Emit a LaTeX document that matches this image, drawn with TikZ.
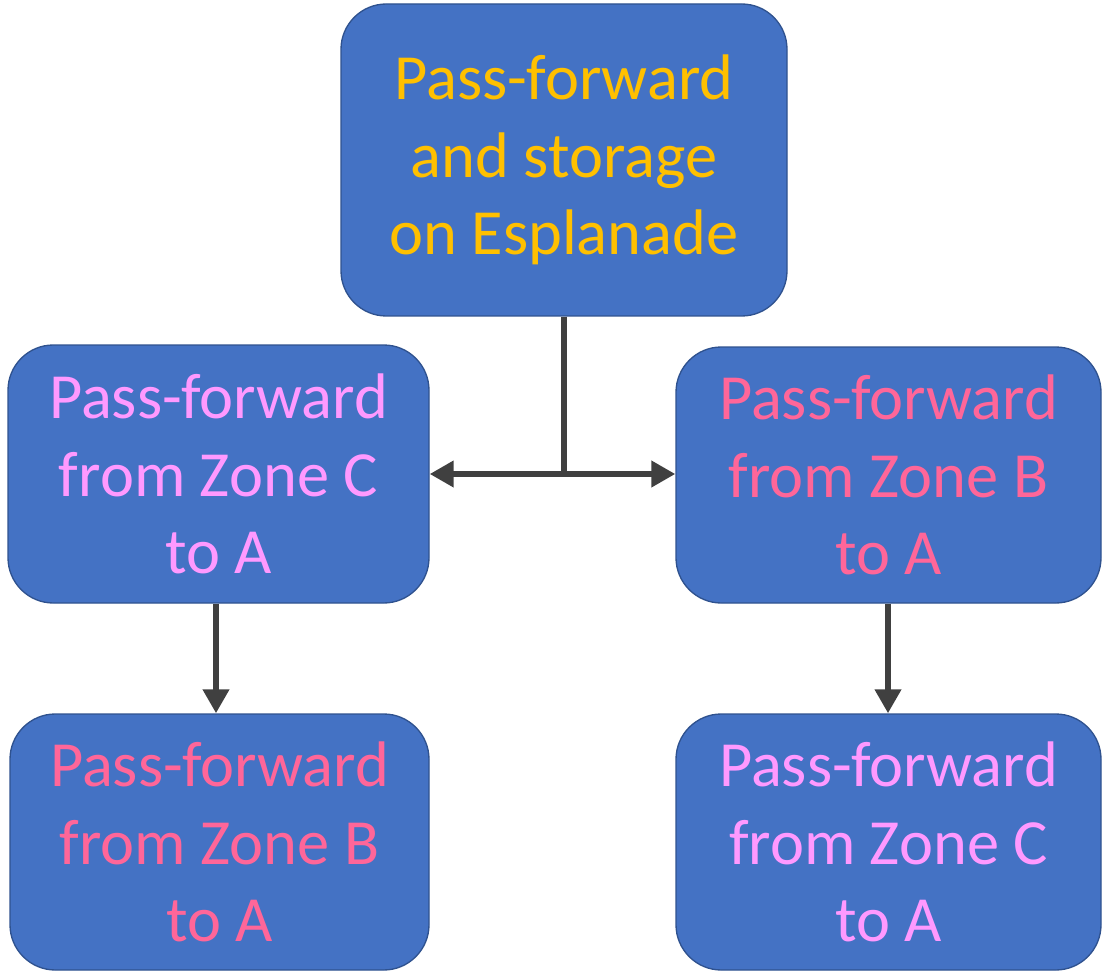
\documentclass[tikz,border=0pt]{standalone}
\usepackage{fontspec}
\setmainfont{Carlito}
\usetikzlibrary{arrows.meta}
\definecolor{boxfill}{HTML}{4472C4}
\definecolor{boxline}{HTML}{2F528F}
\definecolor{gold}{HTML}{FFC000}
\definecolor{violet}{HTML}{FF99FF}
\definecolor{rose}{HTML}{FF6699}
\definecolor{conn}{HTML}{404040}
\begin{document}
\begin{tikzpicture}[x=0.75pt,y=-0.75pt,
  box/.style={draw=boxline,line width=1pt,fill=boxfill,rounded corners=34pt,
    inner sep=0pt,align=center,
    font=\fontsize{48.3}{58}\selectfont},
  conline/.style={draw=conn,line width=4.8pt},
  conarrow/.style={conline,-{Triangle[length=18pt,width=19pt]}}]
\useasboundingbox (0,0) rectangle (1102,973);
\node[box,minimum width=446*0.75pt,minimum height=312*0.75pt,text=gold] (top) at (564,160)
  {Pass-forward\\and storage\\on Esplanade};
\node[box,minimum width=421*0.75pt,minimum height=258*0.75pt,text=violet] (lm) at (218.5,474)
  {Pass-forward\\from Zone C\\to A};
\node[box,minimum width=425*0.75pt,minimum height=256*0.75pt,text=rose] (rm) at (888.5,475)
  {Pass-forward\\from Zone B\\to A};
\node[box,minimum width=419*0.75pt,minimum height=256*0.75pt,text=rose] (lb) at (219.5,842)
  {Pass-forward\\from Zone B\\to A};
\node[box,minimum width=425*0.75pt,minimum height=256*0.75pt,text=violet] (rb) at (888.5,842)
  {Pass-forward\\from Zone C\\to A};
\coordinate (j) at (564,474);
\draw[conline] (top.south -| j) -- (j);
\draw[conarrow] (j) -- (lm.east |- j);
\draw[conarrow] (j) -- (rm.west |- j);
\draw[conarrow] (lm.south -| 216,0) -- (lb.north -| 216,0);
\draw[conarrow] (rm.south -| 888,0) -- (rb.north -| 888,0);
\end{tikzpicture}
\end{document}
